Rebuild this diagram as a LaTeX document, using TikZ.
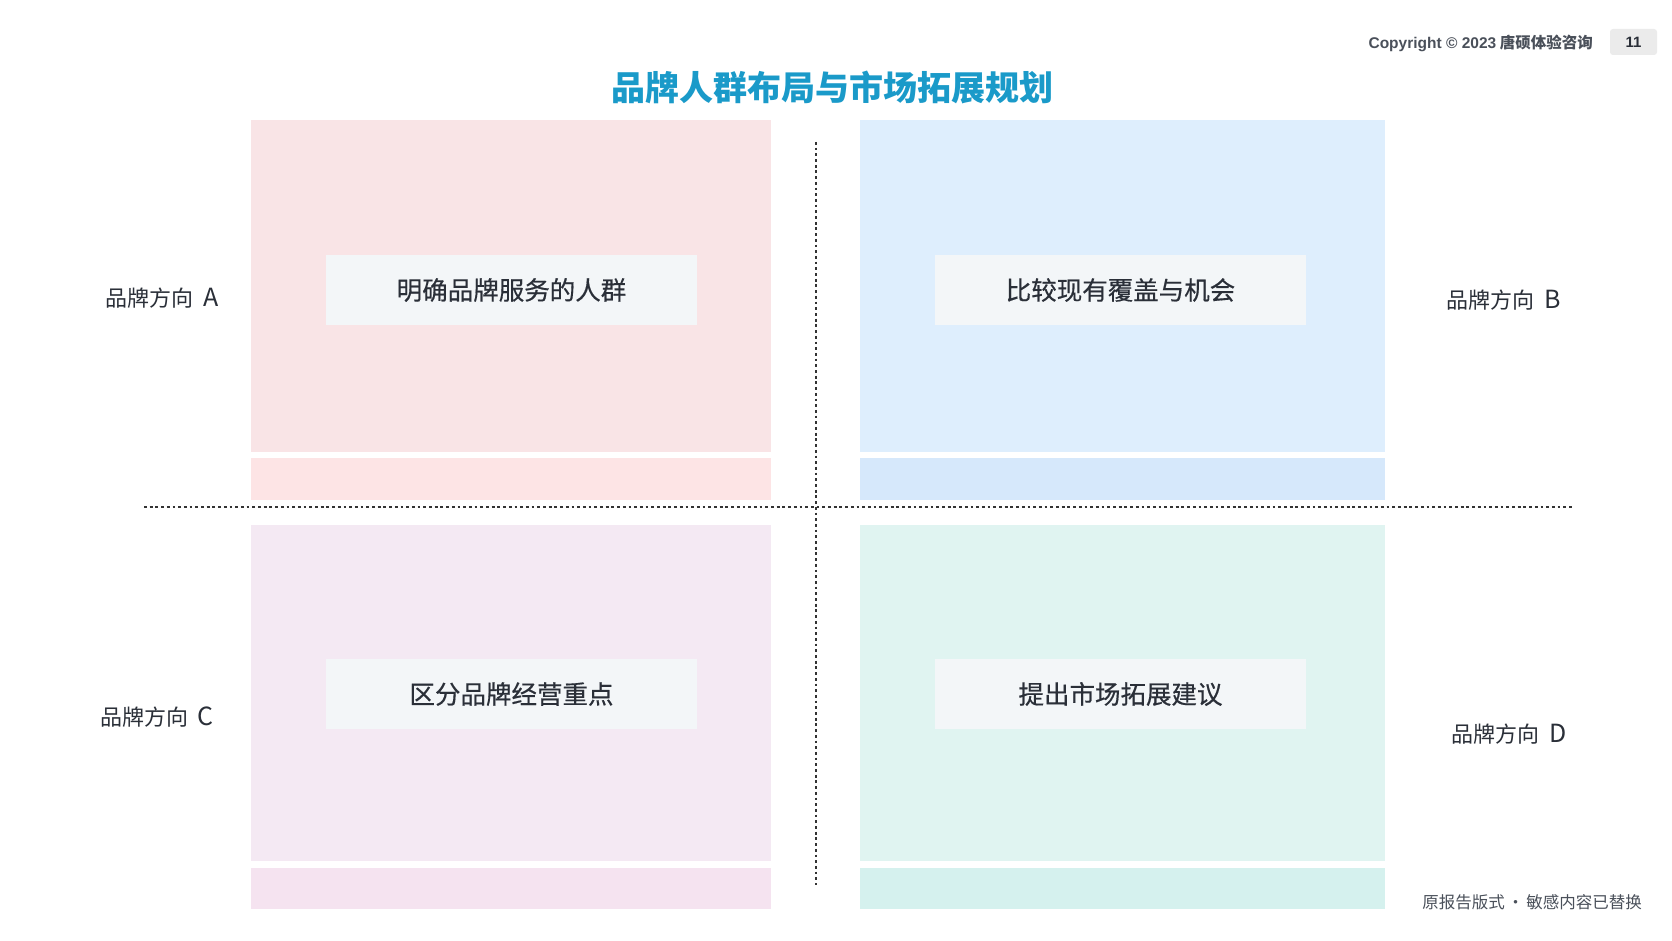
\documentclass[tikz,border=0pt]{standalone}
\usepackage{fontspec}
\setmainfont{Noto Sans CJK SC}
\newfontfamily\taskfont[FakeBold=0.5]{Noto Sans CJK SC}
\newfontfamily\helvfont{Liberation Sans}
\usetikzlibrary{positioning}
\definecolor{titleblue}{HTML}{1A9AC9}
\definecolor{inktext}{HTML}{2A2F38}
\definecolor{greytext}{HTML}{4A505A}
\definecolor{pinkpanel}{HTML}{F9E4E6}
\definecolor{pinkstrip}{HTML}{FDE4E5}
\definecolor{bluepanel}{HTML}{DEEEFD}
\definecolor{bluestrip}{HTML}{D6E8FB}
\definecolor{lilacpanel}{HTML}{F4E9F3}
\definecolor{lilacstrip}{HTML}{F5E3F0}
\definecolor{mintpanel}{HTML}{E0F4F1}
\definecolor{mintstrip}{HTML}{D5F1EE}
\definecolor{boxfill}{HTML}{F3F6F8}
\newcommand{\dirlabel}[1]{品牌方向\hspace{0.45em}{\fontsize{25}{28}\selectfont #1}}

\begin{document}
\begin{tikzpicture}[x=1pt,y=-1pt,
     panel/.style={anchor=north west,inner sep=0pt,outer sep=0pt,minimum width=520pt,minimum height=332pt},
     strip/.style={anchor=north west,inner sep=0pt,outer sep=0pt,minimum width=520pt,minimum height=42pt},
     task/.style={fill=boxfill,inner sep=0pt,minimum width=371pt,minimum height=70pt,text=inktext,font=\taskfont\fontsize{25.5}{30}\selectfont},
     side/.style={text=inktext,inner sep=0pt,font=\fontsize{22}{26}\selectfont},
     divider/.style={draw=black!80,line width=1.3pt,dash pattern=on 2.8pt off 2.9pt}
   ]
   \useasboundingbox[fill=white] (0,0) rectangle (1672,941);
   % Header.
   \node[text=titleblue,font=\fontsize{34}{40}\selectfont\bfseries] (title) at (832,88) {品牌人群布局与市场拓展规划};
   \node[anchor=east,text=greytext,inner sep=0pt,font=\fontsize{15.5}{19}\selectfont\bfseries] (copy) at (1593,43) {{\helvfont Copyright © 2023} 唐硕体验咨询};
   \node[fill=black!8,rounded corners=3pt,minimum width=47pt,minimum height=26pt,inner sep=0pt,text=inktext,font=\helvfont\fontsize{15}{18}\selectfont\bfseries] (page) at (1633.5,42) {11};
   % Quadrants.
   \node[panel,fill=pinkpanel] (tl) at (251,120) {};
   \node[strip,fill=pinkstrip] (tlstrip) at (251,458) {};
   \node[panel,fill=bluepanel,minimum width=525pt] (tr) at (860,120) {};
   \node[strip,fill=bluestrip,minimum width=525pt] (trstrip) at (860,458) {};
   \node[panel,fill=lilacpanel,minimum height=336pt] (bl) at (251,525) {};
   \node[strip,fill=lilacstrip,minimum height=41pt] (blstrip) at (251,868) {};
   \node[panel,fill=mintpanel,minimum width=525pt,minimum height=336pt] (br) at (860,525) {};
   \node[strip,fill=mintstrip,minimum width=525pt,minimum height=41pt] (brstrip) at (860,868) {};
   % Tasks.
   \node[task] (taskA) at (511.5,290) {明确品牌服务的人群};
   \node[task] (taskB) at (1120.5,290) {比较现有覆盖与机会};
   \node[task] (taskC) at (511.5,694) {区分品牌经营重点};
   \node[task] (taskD) at (1120.5,694) {提出市场拓展建议};
   % Directions.
   \node[side] (dirA) at (162,298) {\dirlabel{A}};
   \node[side] (dirB) at (1504,300) {\dirlabel{B}};
   \node[side] (dirC) at (157,717) {\dirlabel{C}};
   \node[side] (dirD) at (1509,734) {\dirlabel{D}};
   % Axes.
   \coordinate (axisW) at (144,507);
   \coordinate (axisE) at (1573,507);
   \coordinate (axisN) at (816,142);
   \coordinate (axisS) at (816,885);
   \draw[divider] (axisW) -- (axisE);
   \draw[divider] (axisN) -- (axisS);
   % Footer.
   \node[anchor=east,text=greytext,inner sep=0pt,font=\fontsize{16.5}{20}\selectfont] (note) at (1642,902) {原报告版式\hspace{0.15em}·\hspace{0.15em}敏感内容已替换};
\end{tikzpicture}
\end{document}
